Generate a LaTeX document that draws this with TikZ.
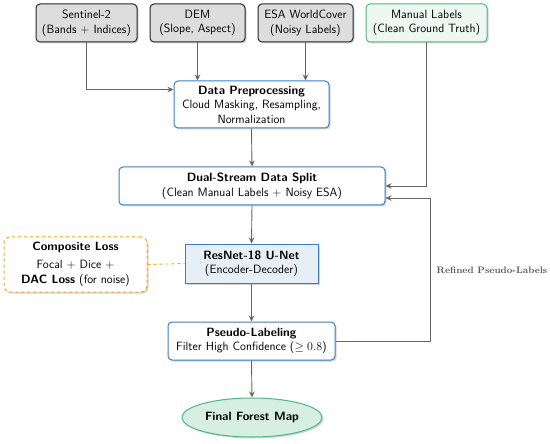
\documentclass[tikz,border=0pt]{standalone}
\usetikzlibrary{shapes.geometric,shadows,arrows.meta,calc}
\definecolor{bord}{HTML}{3A7EC0}
\definecolor{grn}{HTML}{4DB888}
\definecolor{grnfill}{HTML}{EEF8F3}
\definecolor{finfill}{HTML}{D6EFE2}
\definecolor{resfill}{HTML}{E6EEF6}
\definecolor{grayfill}{HTML}{DDDDDD}
\definecolor{orng}{HTML}{F5A623}
\definecolor{arrc}{HTML}{666666}
\begin{document}
\begin{tikzpicture}[x=1pt,y=1pt,
  font=\sffamily\fontsize{12}{14.5}\selectfont,
  shad/.style={drop shadow={opacity=0.35,shadow xshift=1.5pt,shadow yshift=-1.5pt}},
  inbox/.style={draw=black!85,fill=grayfill,rounded corners=4pt,line width=1pt,align=center,inner sep=0pt,minimum height=38pt,shad},
  manbox/.style={draw=grn,fill=grnfill,rounded corners=4pt,line width=1pt,align=center,inner sep=0pt,minimum height=38pt,shad},
  procbox/.style={draw=bord,fill=white,rounded corners=4pt,line width=1pt,align=center,inner sep=0pt,shad},
  resbox/.style={draw=bord,fill=resfill,line width=1pt,align=center,inner sep=0pt,shad},
  lossbox/.style={draw=orng,fill=white,dashed,rounded corners=6pt,line width=1pt,align=center,inner sep=0pt,shad},
  finbox/.style={ellipse,draw=grn,fill=finfill,line width=1pt,inner sep=0pt,shad},
  arr/.style={draw=arrc,line width=0.9pt,-{Stealth[length=6pt,width=5.5pt]}},
  fblabel/.style={font=\rmfamily\bfseries\fontsize{9.4}{11}\selectfont,text=black!65,anchor=west,inner sep=0pt}
]
\useasboundingbox (0,0) rectangle (550,-444);

\node[inbox,minimum width=101pt] (s2) at (86.5,-23) {Sentinel-2\\(Bands + Indices)};
\node[inbox,minimum width=95pt] (dem) at (197.5,-23) {DEM\\(Slope, Aspect)};
\node[inbox,minimum width=95pt] (esa) at (305.5,-23) {ESA WorldCover\\(Noisy Labels)};
\node[manbox,minimum width=121pt] (man) at (426.5,-23) {Manual Labels\\(Clean Ground Truth)};

\node[procbox,minimum width=155pt,minimum height=47pt] (pre) at (251.5,-104.5) {\textbf{Data Preprocessing}\\Cloud Masking, Resampling,\\Normalization};

\node[procbox,minimum width=266pt,minimum height=38pt] (dual) at (252,-186) {\textbf{Dual-Stream Data Split}\\(Clean Manual Labels + Noisy ESA)};

\node[resbox,minimum width=133pt,minimum height=39pt] (res) at (251.5,-263.5) {\textbf{ResNet-18 U-Net}\\(Encoder-Decoder)};

\node[lossbox,minimum width=143pt,minimum height=55pt] (loss) at (75.5,-264.5) {\textbf{Composite Loss}\\[3.5pt]Focal + Dice +\\\textbf{DAC Loss} (for noise)};

\node[procbox,minimum width=167pt,minimum height=38pt] (pseudo) at (251.5,-341) {\textbf{Pseudo-Labeling}\\Filter High Confidence ($\geq 0.8$)};

\node[finbox,minimum width=140pt,minimum height=39pt] (final) at (252,-417.5) {\textbf{Final Forest Map}};

\coordinate (fb) at (430,-341);

\draw[arr] (s2.south) |- ([yshift=-9pt]pre.north west);
\draw[arr] (dem.south) -- (dem.south |- pre.north);
\draw[arr] (esa.south) -- (esa.south |- pre.north);
\draw[arr] (man.south) |- (dual.east);
\draw[arr] (pre.south) -- (dual.north);
\draw[arr] (dual.south) -- (res.north);
\draw[arr] (res.south) -- (pseudo.north);
\draw[arr] (pseudo.south) -- (final.north);
\draw[draw=orng,dashed,line width=0.9pt] (loss.east) -- (res.west);
\draw[arr] (pseudo.east) -- (fb) |- ([yshift=-12pt]dual.east);
\node[fblabel] (fbl) at (436.5,-270) {Refined Pseudo-Labels};
\end{tikzpicture}
\end{document}
